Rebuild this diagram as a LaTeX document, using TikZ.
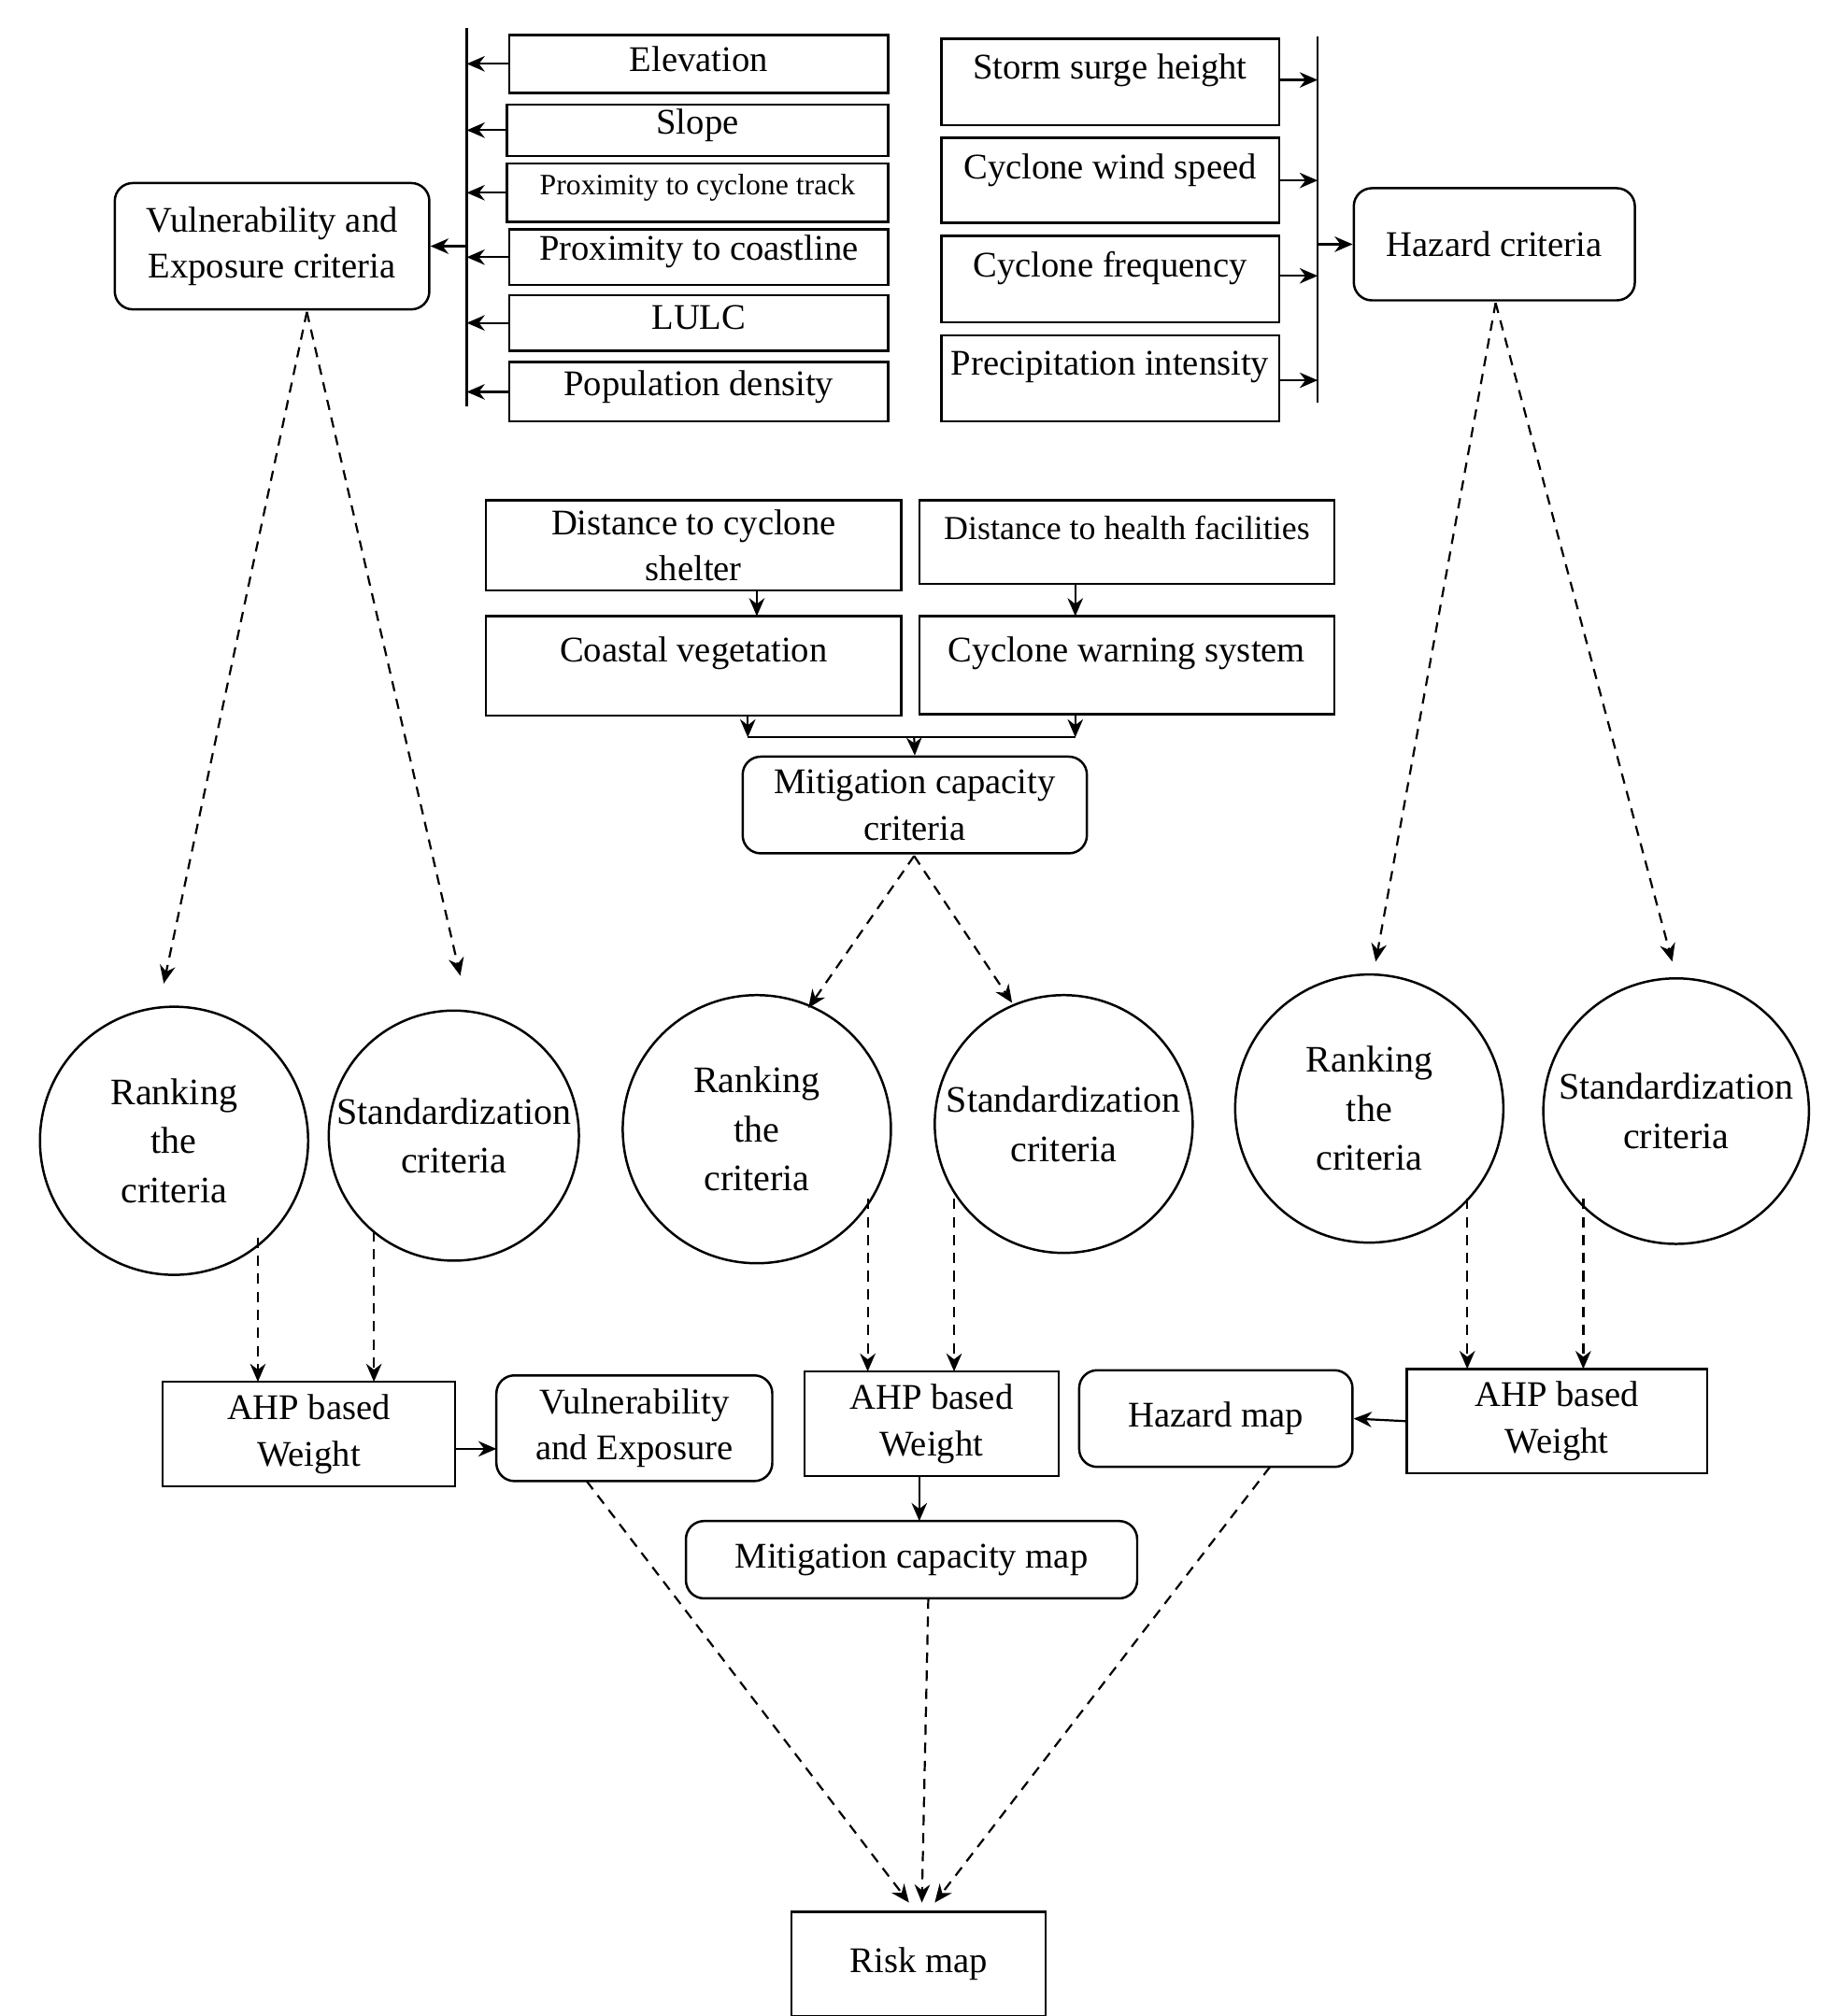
\documentclass[tikz,border=0pt]{standalone}
\usepackage{fontspec}
\setmainfont{Liberation Serif}
\usetikzlibrary{fit,arrows.meta}
\begin{document}
\begin{tikzpicture}[x=0.5pt,y=-0.5pt,
  bx/.style={draw,line width=0.9pt,fit={#1},inner sep=0pt},
  rbx/.style={draw,line width=0.9pt,fit={#1},inner sep=0pt,rounded corners=7pt},
  cir/.style={draw,circle,line width=0.9pt,align=center,inner sep=0pt,font=\fontsize{14.5}{19}\selectfont},
  tx/.style={align=center,font=\fontsize{14}{18}\selectfont},
  ar/.style={-{Stealth[length=7pt,width=6pt]},line width=0.8pt},
  da/.style={ar,dashed,dash pattern=on 4pt off 3pt}]
\useasboundingbox (0,0) rectangle (1414,1564);
% left factor boxes
\foreach \n/\a/\b/\c/\d/\t in {el/395/27/689/72/Elevation, sl/393/81/689/121/Slope, pt/393/127/689/172/{\fontsize{11.5}{14}\selectfont Proximity to cyclone track}, pc/395/178/689/221/Proximity to coastline, lu/395/229/689/272/LULC, pd/395/281/689/327/Population density}{
  \node[bx={(\a,\b)(\c,\d)}] (\n) {};
  \node[tx] at ([yshift=2pt]\n) {\t};
}
\coordinate (lb1) at (362,22); \coordinate (lb2) at (362,315);
\draw[line width=0.9pt] (lb1) -- (lb2);
\foreach \n in {el,sl,pt,pc,lu,pd}{\draw[ar] (\n.west) -- (\n.west -| lb1);}
\node[rbx={(89,142)(333,240)}] (ve) {};
\node[tx] at (ve) {Vulnerability and\\Exposure criteria};
\draw[ar] (lb1 |- ve) -- (ve.east);
% right factor boxes
\foreach \n/\a/\b/\c/\d/\t in {ss/730/30/992/97/Storm surge height, cw/730/107/992/173/Cyclone wind speed, cf/730/183/992/250/Cyclone frequency, pi/730/260/992/327/Precipitation intensity}{
  \node[bx={(\a,\b)(\c,\d)}] (\n) {};
  \node[tx,anchor=north] at ([yshift=-3pt]\n.north) {\t};
}
\coordinate (rb1) at (1022,28); \coordinate (rb2) at (1022,312);
\draw[line width=0.9pt] (rb1) -- (rb2);
\foreach \n/\y in {ss/62,cw/140,cf/214,pi/295}{\coordinate (\n s) at (992,\y); \draw[ar] (\n s) -- (\n s -| rb1);}
\node[rbx={(1050,146)(1268,233)}] (hc) {};
\node[tx] at (hc) {Hazard criteria};
\draw[ar] (rb1 |- hc) -- (hc.west);
% mitigation inputs
\node[bx={(377,388)(699,458)}] (ds) {};
\node[tx] at (ds) {Distance to cyclone\\shelter};
\node[bx={(713,388)(1035,453)}] (dh) {};
\node[tx,anchor=north] at ([yshift=-3pt]dh.north) {\fontsize{13}{16}\selectfont Distance to health facilities};
\node[bx={(377,478)(699,555)}] (cv) {};
\node[tx,anchor=north] at ([yshift=-5pt]cv.north) {Coastal vegetation};
\node[bx={(713,478)(1035,554)}] (cws) {};
\node[tx,anchor=north] at ([yshift=-5pt]cws.north) {Cyclone warning system};
\draw[ar] (587,458) -- (587,478);
\draw[ar] (834,453) -- (834,478);
\coordinate (hl1) at (580,572); \coordinate (hl2) at (834,572);
\draw[line width=0.9pt] (hl1) -- (hl2);
\draw[ar] (580,555) -- (hl1);
\draw[ar] (834,554) -- (hl2);
\node[rbx={(576,587)(843,662)}] (mc) {};
\node[tx] at (mc) {Mitigation capacity\\criteria};
\draw[ar] (709,572) -- (mc.north);
% circles
\node[cir,minimum size=104pt] (r1) at (135,885) {Ranking\\the\\criteria};
\node[cir,minimum size=97pt] (s1) at (352,881) {Standardization\\criteria};
\node[cir,minimum size=104pt] (r2) at (587,876) {Ranking\\the\\criteria};
\node[cir,minimum size=100pt] (s2) at (825,872) {Standardization\\criteria};
\node[cir,minimum size=104pt] (r3) at (1062,860) {Ranking\\the\\criteria};
\node[cir,minimum size=103pt] (s3) at (1300,862) {Standardization\\criteria};
\coordinate (veb) at (238,242); \coordinate (mcb) at (709,664); \coordinate (hcb) at (1160,235);
\draw[da] (veb) -- (127,763);
\draw[da] (veb) -- (357,757);
\draw[da] (mcb) -- (627,782);
\draw[da] (mcb) -- (785,778);
\draw[da] (hcb) -- (1067,746);
\draw[da] (hcb) -- (1297,746);
% AHP boxes
\node[bx={(126,1072)(353,1153)}] (a1) {};
\node[tx] at (a1) {AHP based\\Weight};
\node[bx={(624,1064)(821,1145)}] (a2) {};
\node[tx] at (a2) {AHP based\\Weight};
\node[bx={(1091,1062)(1324,1143)}] (a3) {};
\node[tx] at (a3) {AHP based\\Weight};
\draw[da] (200,960) -- (200,1072);
\draw[da] (290,955) -- (290,1072);
\draw[da] (673,930) -- (673,1064);
\draw[da] (740,930) -- (740,1064);
\draw[da] (1138,930) -- (1138,1062);
\draw[da] (1228,930) -- (1228,1062);
% maps
\node[rbx={(385,1067)(599,1149)}] (vm) {};
\node[tx] at (vm) {Vulnerability\\and Exposure};
\node[rbx={(837,1063)(1049,1138)}] (hm) {};
\node[tx] at (hm) {Hazard map};
\node[rbx={(532,1180)(882,1240)}] (mm) {};
\node[tx] at (mm) {Mitigation capacity map};
\node[bx={(614,1483)(811,1564)}] (rm) {};
\node[tx] at (rm) {Risk map};
\draw[ar] (353,1124) -- (385,1124);
\draw[ar] (a3.west) -- (hm.east);
\draw[ar] (713,1145) -- (713,1180);
\draw[da] (455,1149) -- (705,1476);
\draw[da] (720,1240) -- (715,1476);
\draw[da] (985,1138) -- (725,1476);
\end{tikzpicture}
\end{document}
